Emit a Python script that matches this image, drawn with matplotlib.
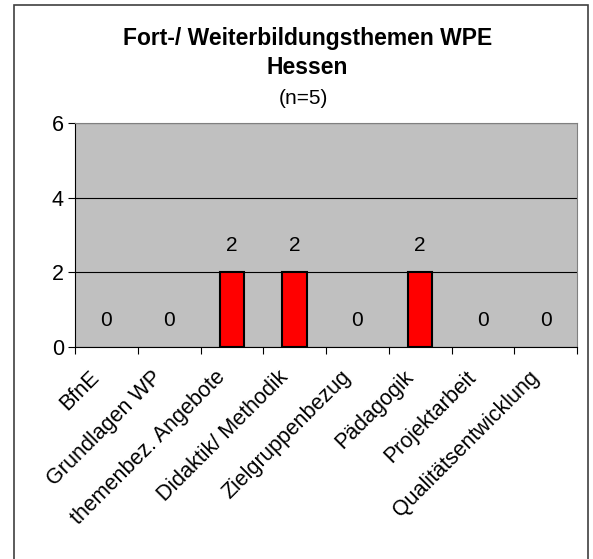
import matplotlib
matplotlib.use("Agg")
import matplotlib.pyplot as plt
from matplotlib.patches import Rectangle
from matplotlib.transforms import ScaledTranslation
import numpy as np

plt.rcParams['font.family'] = ['Liberation Sans', 'DejaVu Sans']

categories = ['BfnE', 'Grundlagen WP', 'themenbez. Angebote', 'Didaktik/ Methodik',
              'Zielgruppenbezug', 'Pädagogik', 'Projektarbeit', 'Qualitätsentwicklung']
values = [0, 0, 2, 2, 0, 2, 0, 0]
y_ticks = [0, 2, 4, 6]

W, H = 593, 559
fig = plt.figure(figsize=(W / 100, H / 100), dpi=100)
fig.patch.set_facecolor('white')

# outer chart frame (bottom edge runs off the picture)
fig.patches.append(Rectangle((14 / W, -0.05), (588 - 14) / W, 1 - 5 / H + 0.05,
                             transform=fig.transFigure, fill=False,
                             edgecolor='#404040', linewidth=1.2))

ax = fig.add_axes([75 / W, 1 - 347 / H, (577 - 75) / W, (347 - 123) / H])
ax.set_facecolor('#C0C0C0')

x = np.arange(len(categories))
edges = ['black' if v > 0 else 'none' for v in values]
ax.bar(x, values, width=0.39, color='#FF0000', edgecolor=edges, linewidth=1.5, zorder=3)

for xi, v in zip(x, values):
    ax.annotate(str(v), (xi, v), xytext=(0, 19), textcoords='offset points',
                ha='center', va='center', fontsize=15)

ax.set_xlim(-0.5, len(categories) - 0.5)
ax.set_ylim(0, 6)
ax.set_yticks(y_ticks)
ax.yaxis.grid(True, color='black', linewidth=0.8)
ax.set_axisbelow(True)

# ticks between categories, labels at centres
ax.set_xticks(np.arange(len(categories) + 1) - 0.5)
ax.set_xticklabels([])
ax.set_xticks(x, minor=True)
ax.set_xticklabels(categories, minor=True, rotation=45, ha='right', va='center',
                   rotation_mode='anchor', fontsize=15.5)
ax.tick_params(axis='x', which='minor', length=0, pad=0)
ax.tick_params(axis='x', which='major', length=5, direction='out')
ax.tick_params(axis='y', length=5, direction='out', labelsize=15.5, pad=3)
off = ScaledTranslation(-0.10, -0.27, fig.dpi_scale_trans)
for lab in ax.get_xticklabels(minor=True):
    lab.set_transform(lab.get_transform() + off)

for s in ['top', 'right']:
    ax.spines[s].set_color('#808080')
for s in ['left', 'bottom']:
    ax.spines[s].set_color('black')

fig.text(0.518, 1 - 38 / H, 'Fort-/ Weiterbildungsthemen WPE', ha='center', va='center',
         fontsize=16.5, fontweight='bold')
fig.text(0.518, 1 - 68 / H, 'Hessen', ha='center', va='center', fontsize=16.5, fontweight='bold')
fig.text(0.512, 1 - 98 / H, '(n=5)', ha='center', va='center', fontsize=15)

fig.savefig('out.png', dpi=100)
